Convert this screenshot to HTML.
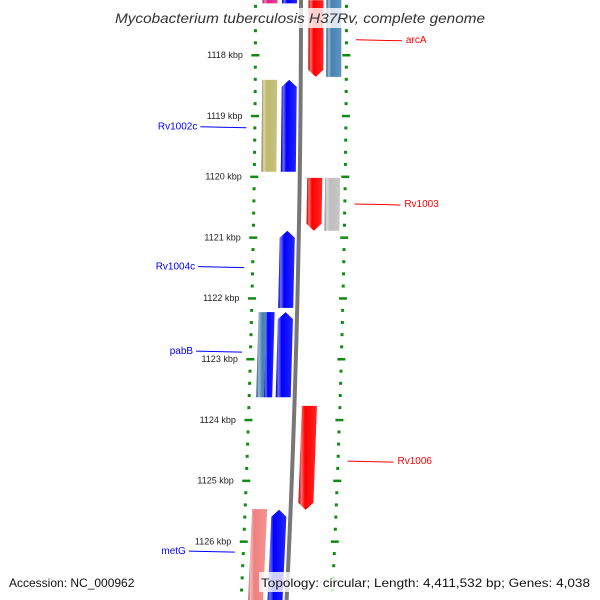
<!DOCTYPE html>
<html><head><meta charset="utf-8"><style>
html,body{margin:0;padding:0;background:#fff;}
svg{display:block;font-family:"Liberation Sans",sans-serif;}
</style></head><body>
<svg id="map" width="600" height="600" viewBox="0 0 600 600">
<defs>
<linearGradient id="shade" x1="0" x2="1" y1="0" y2="0">
<stop offset="0" stop-color="#000" stop-opacity="0.25"/>
<stop offset="0.15" stop-color="#fff" stop-opacity="0.45"/>
<stop offset="0.35" stop-color="#fff" stop-opacity="0"/>
<stop offset="1" stop-color="#fff" stop-opacity="0.15"/>
</linearGradient>
</defs>
<g id="ticks"></g>
<g id="backbone"></g>
<g id="features"></g>
<g id="labels"></g>
<g>
<rect x="112" y="8" width="376" height="20" fill="#fff" fill-opacity="0.8"/>
<text x="300" y="23" text-anchor="middle" font-size="14" font-style="italic" fill="#333" textLength="370" lengthAdjust="spacingAndGlyphs">Mycobacterium tuberculosis H37Rv, complete genome</text>
</g>
<text x="9" y="587" font-size="12" fill="#111">Accession: NC_000962</text>
<rect x="259" y="572" width="333" height="20" fill="#fff" fill-opacity="0.8"/>
<text x="261" y="587" font-size="12" fill="#111" textLength="329" lengthAdjust="spacingAndGlyphs">Topology: circular; Length: 4,411,532 bp; Genes: 4,038</text>
</svg>
<script>
const majorTicks = [1118,1119,1120,1121,1122,1123,1124,1125,1126];
const tickLabels = ["1118 kbp","1119 kbp","1120 kbp","1121 kbp","1122 kbp","1123 kbp","1124 kbp","1125 kbp","1126 kbp"];
const geneStarts = [1116.5,1116.5,1116.5,1117.1,1118.41,1118.41,1120.02,1120.02,1120.89,1122.23,1122.23,1122.23,1123.77,1125.47,1125.48];
const geneEnds   = [1117.15,1117.15,1118.36,1118.36,1119.92,1119.92,1120.89,1120.89,1122.16,1123.63,1123.63,1123.63,1125.48,1127.2,1127.2];
const geneLanes  = [-2,-1,2,1,-2,-1,1,2,-1,-2,-2.5,-1,1,-2,-1];
const geneStrand = [0,-1,0,1,0,-1,1,0,-1,0,0,-1,1,0,-1];
const geneColors = ["#e0208a","#0000ff","#4682b4","#ff0000","#bdb76b","#0000ff","#ff0000","#bebebe","#0000ff","#4682b4","#0000ff","#0000ff","#ff0000","#f08080","#0000ff"];
const labelNames = ["arcA","Rv1002c","Rv1003","Rv1004c","pabB","Rv1006","metG"];
const labelKbp   = [1117.75,1119.18,1120.45,1121.48,1122.87,1124.68,1126.16];
const labelSide  = [1,-1,1,-1,-1,1,-1];
const labelColor = ["#ff0000","#0000ff","#ff0000","#0000ff","#0000ff","#ff0000","#0000ff"];

const NS="http://www.w3.org/2000/svg";
function yScale(k){return 55+(k-1118)*60.8;}
function shift(y){return -0.00004*y*y;}
const laneX={"1":316,"2":334,"-1":289.5,"-2":270,"-2.5":274.5};
const laneW={"1":15,"2":15,"-1":15,"-2":15,"-2.5":8};
function mk(tag,attrs,parent){const e=document.createElementNS(NS,tag);for(const k in attrs)e.setAttribute(k,attrs[k]);parent.appendChild(e);return e;}

const bb=document.getElementById('backbone');
let d="";for(let y=0;y<=600;y+=10){d+=(y?"L":"M")+(301+shift(y)).toFixed(2)+" "+y;}
const bpath=mk('path',{d:d,fill:"none",stroke:"#777",'stroke-width':4},bb);



const tg=document.getElementById('ticks');
for(let i=0;i<=55;i++){
  const kk=Math.round((1116.6+i*0.2)*10)/10;
  const y=yScale(kk);
  if(y<-5||y>605)continue;
  const major=Math.abs(kk-Math.round(kk))<0.01;
  [255.5,346.5].forEach(function(bx){
    const x=bx+shift(y);
    const r=mk('rect',{x:major?x-4:x-1.5,y:major?y-1:y-1.5,width:major?8:3,height:major?2.5:3,fill:"#138a13"},tg);
    
    
  });
}
majorTicks.forEach(function(k,i){
  const y=yScale(k);
  const t=mk('text',{x:243+shift(y),y:y+3,'text-anchor':'end','font-size':9,fill:"#222"},tg);
  t.textContent=tickLabels[i];
  
  
});

const fg=document.getElementById('features');
geneStarts.forEach(function(s,i){
  const y1=yScale(s),y2=yScale(geneEnds[i]);
  const lane=String(geneLanes[i]);const cx=laneX[lane],w=laneW[lane];
  const st=geneStrand[i];const tip=7;
  const L=function(y){return cx-w/2+shift(y);},R=function(y){return cx+w/2+shift(y);};
  let pts;
  if(st===1){pts=[[L(y1),y1],[R(y1),y1],[R(y2-tip),y2-tip],[(L(y2)+R(y2))/2,y2],[L(y2-tip),y2-tip]];}
  else if(st===-1){pts=[[(L(y1)+R(y1))/2,y1],[R(y1+tip),y1+tip],[R(y2),y2],[L(y2),y2],[L(y1+tip),y1+tip]];}
  else{pts=[[L(y1),y1],[R(y1),y1],[R(y2),y2],[L(y2),y2]];}
  const ps=pts.map(function(p){return p[0].toFixed(2)+","+p[1].toFixed(2);}).join(" ");
  const p=mk('polygon',{points:ps,fill:geneColors[i]},fg);
  
  
  const h=mk('polygon',{points:ps,fill:"url(#shade)"},fg);
  
  
});

const lg=document.getElementById('labels');
labelNames.forEach(function(n,i){
  const y=yScale(labelKbp[i]);
  let x1,x2,tx,anchor;
  if(labelSide[i]>0){x1=356+shift(y);x2=x1+46;tx=x2+4;anchor='start';}
  else{x2=247+shift(y);x1=x2-46;tx=x1-3;anchor='end';}
  const l=mk('line',{x1:x1,y1:y,x2:x2,y2:y+1,stroke:labelColor[i],'stroke-width':1},lg);
  
  
  const t=mk('text',{x:tx,y:y+3,'text-anchor':anchor,'font-size':10,fill:labelColor[i]},lg);
  t.textContent=n;
  
  
});
</script>
</body></html>
